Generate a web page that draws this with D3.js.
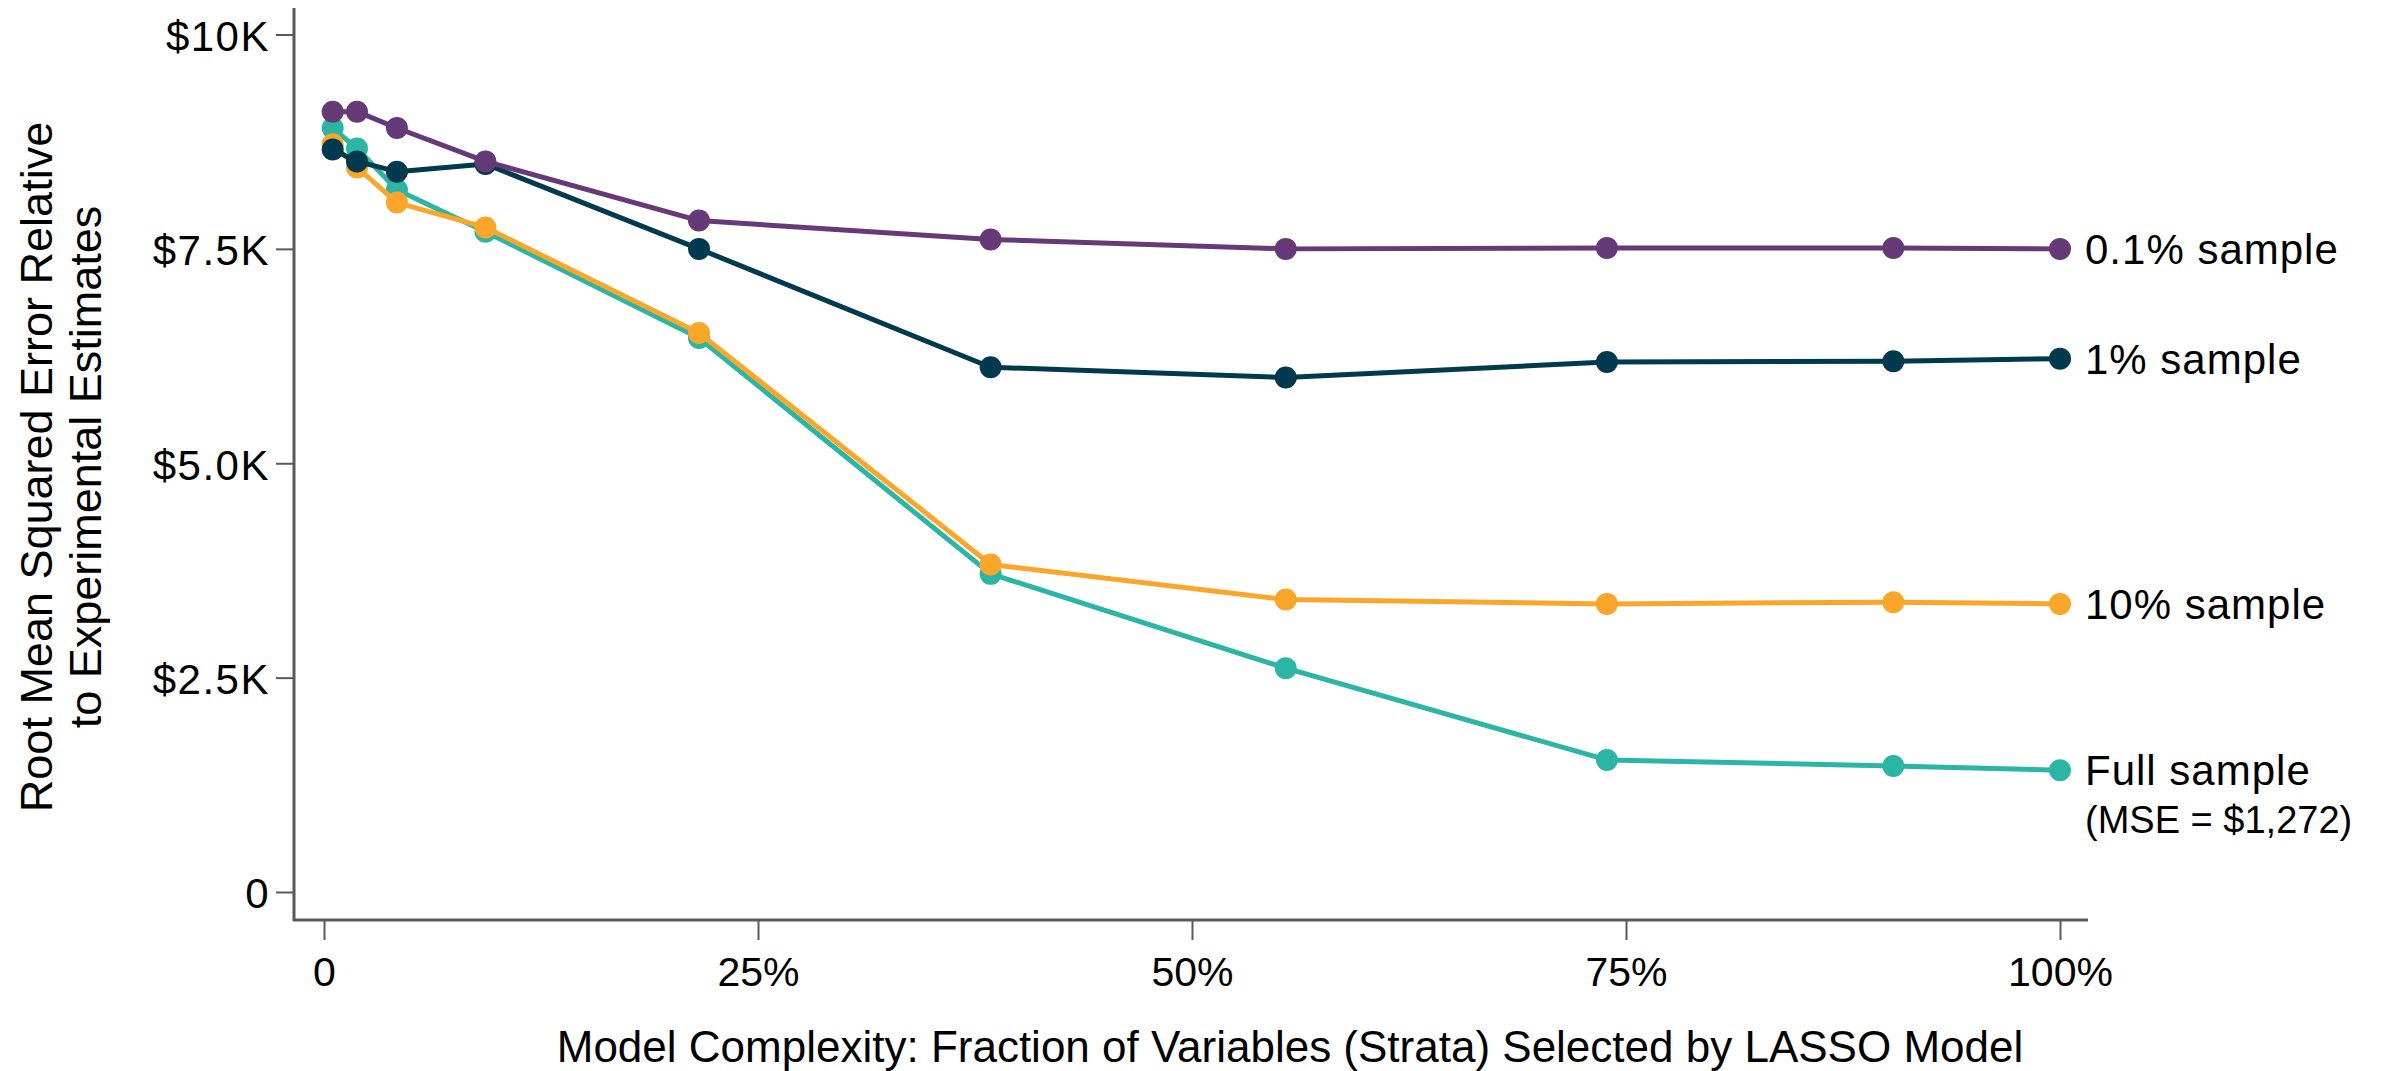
<!DOCTYPE html>
<html>
<head>
<meta charset="utf-8">
<script src="https://cdn.jsdelivr.net/npm/d3@7"></script>
<style>
  html, body { margin: 0; padding: 0; background: #fff; }
  svg { display: block; }
  text { font-family: "Liberation Sans", Arial, sans-serif; fill: #000; }
</style>
</head>
<body>
<svg id="chart" width="2382" height="1071"></svg>
<script>
// ---- Data ----
const xFractions = [0.005, 0.019, 0.042, 0.093, 0.216, 0.384, 0.554, 0.739, 0.904, 1.0];
const sample01 = [9100, 9100, 8910, 8520, 7830, 7610, 7500, 7510, 7510, 7500];
const sample1  = [8660, 8520, 8400, 8490, 7500, 6120, 6000, 6180, 6190, 6220];
const sample10 = [8720, 8450, 8040, 7750, 6520, 3820, 3410, 3360, 3380, 3360];
const sampleFull = [8910, 8670, 8190, 7700, 6460, 3710, 2610, 1540, 1470, 1420];

const seriesNames = ["Full sample", "10% sample", "1% sample", "0.1% sample"];
const seriesColors = ["#2bb5a5", "#f9a62a", "#013a4f", "#653a76"];
const seriesValues = [sampleFull, sample10, sample1, sample01];
const fullNote = "(MSE = $1,272)";

const yTickValues = [0, 2500, 5000, 7500, 10000];
const yTickLabels = ["0", "$2.5K", "$5.0K", "$7.5K", "$10K"];
const xTickValues = [0, 0.25, 0.5, 0.75, 1];
const xTickLabels = ["0", "25%", "50%", "75%", "100%"];

const xTitle = "Model Complexity: Fraction of Variables (Strata) Selected by LASSO Model";
const yTitleLines = ["Root Mean Squared Error Relative", "to Experimental Estimates"];

// ---- Layout ----
const svg = d3.select("#chart");
const x = d3.scaleLinear().domain([0, 1]).range([324, 2060]);
const y = d3.scaleLinear().domain([0, 10000]).range([892, 34.5]);
const axisColor = "#5a5a5a";

// Y axis
const yAxis = d3.axisLeft(y)
  .tickValues(yTickValues)
  .tickFormat((d, i) => yTickLabels[i])
  .tickSize(18)
  .tickSizeOuter(0)
  .tickPadding(6);
const gy = svg.append("g").attr("transform", "translate(294,0)").call(yAxis);
gy.select(".domain").remove();
gy.selectAll(".tick line").attr("stroke", axisColor).attr("stroke-width", 2);
gy.selectAll(".tick text")
  .attr("font-size", 42).attr("letter-spacing", 1.5)
  .attr("dy", "0.38em").attr("x", -24)
  .style("font-family", "'Liberation Sans', Arial, sans-serif");
svg.append("line").attr("x1", 294).attr("x2", 294).attr("y1", 8).attr("y2", 921)
  .attr("stroke", axisColor).attr("stroke-width", 3);

// X axis
const xAxis = d3.axisBottom(x)
  .tickValues(xTickValues)
  .tickFormat((d, i) => xTickLabels[i])
  .tickSize(20)
  .tickSizeOuter(0);
const gx = svg.append("g").attr("transform", "translate(0,920)").call(xAxis);
gx.select(".domain").remove();
gx.selectAll(".tick line").attr("stroke", axisColor).attr("stroke-width", 2);
gx.selectAll(".tick text")
  .attr("font-size", 41).attr("y", 66).attr("dy", 0)
  .style("font-family", "'Liberation Sans', Arial, sans-serif");
svg.append("line").attr("x1", 293).attr("x2", 2088).attr("y1", 920).attr("y2", 920)
  .attr("stroke", axisColor).attr("stroke-width", 3);

// Titles
svg.append("text").attr("x", 1290).attr("y", 1062)
  .attr("text-anchor", "middle").attr("font-size", 44).text(xTitle);
const ytg = svg.append("g").attr("transform", "translate(0,467) rotate(-90)");
ytg.selectAll("text").data(yTitleLines).join("text")
  .attr("x", 0).attr("y", (d, i) => i === 0 ? 52 : 101)
  .attr("text-anchor", "middle").attr("font-size", 45).text(d => d);

// Series
const line = d3.line().x((d, i) => x(xFractions[i])).y(d => y(d));
seriesValues.forEach((vals, s) => {
  const g = svg.append("g");
  g.append("path").datum(vals).attr("d", line)
    .attr("fill", "none").attr("stroke", seriesColors[s]).attr("stroke-width", 5)
    .attr("stroke-linejoin", "round");
  g.selectAll("circle").data(vals).join("circle")
    .attr("cx", (d, i) => x(xFractions[i])).attr("cy", d => y(d))
    .attr("r", 11).attr("fill", seriesColors[s]);
  const last = vals[vals.length - 1];
  g.append("text").attr("x", x(1) + 25).attr("y", y(last))
    .attr("dy", "0.36em").attr("font-size", 42).attr("letter-spacing", 1)
    .text(seriesNames[s]);
  if (s === 0) {
    g.append("text").attr("x", x(1) + 25).attr("y", y(last) + 49)
      .attr("dy", "0.36em").attr("font-size", 38).attr("letter-spacing", 0)
      .text(fullNote);
  }
});
</script>
</body>
</html>
